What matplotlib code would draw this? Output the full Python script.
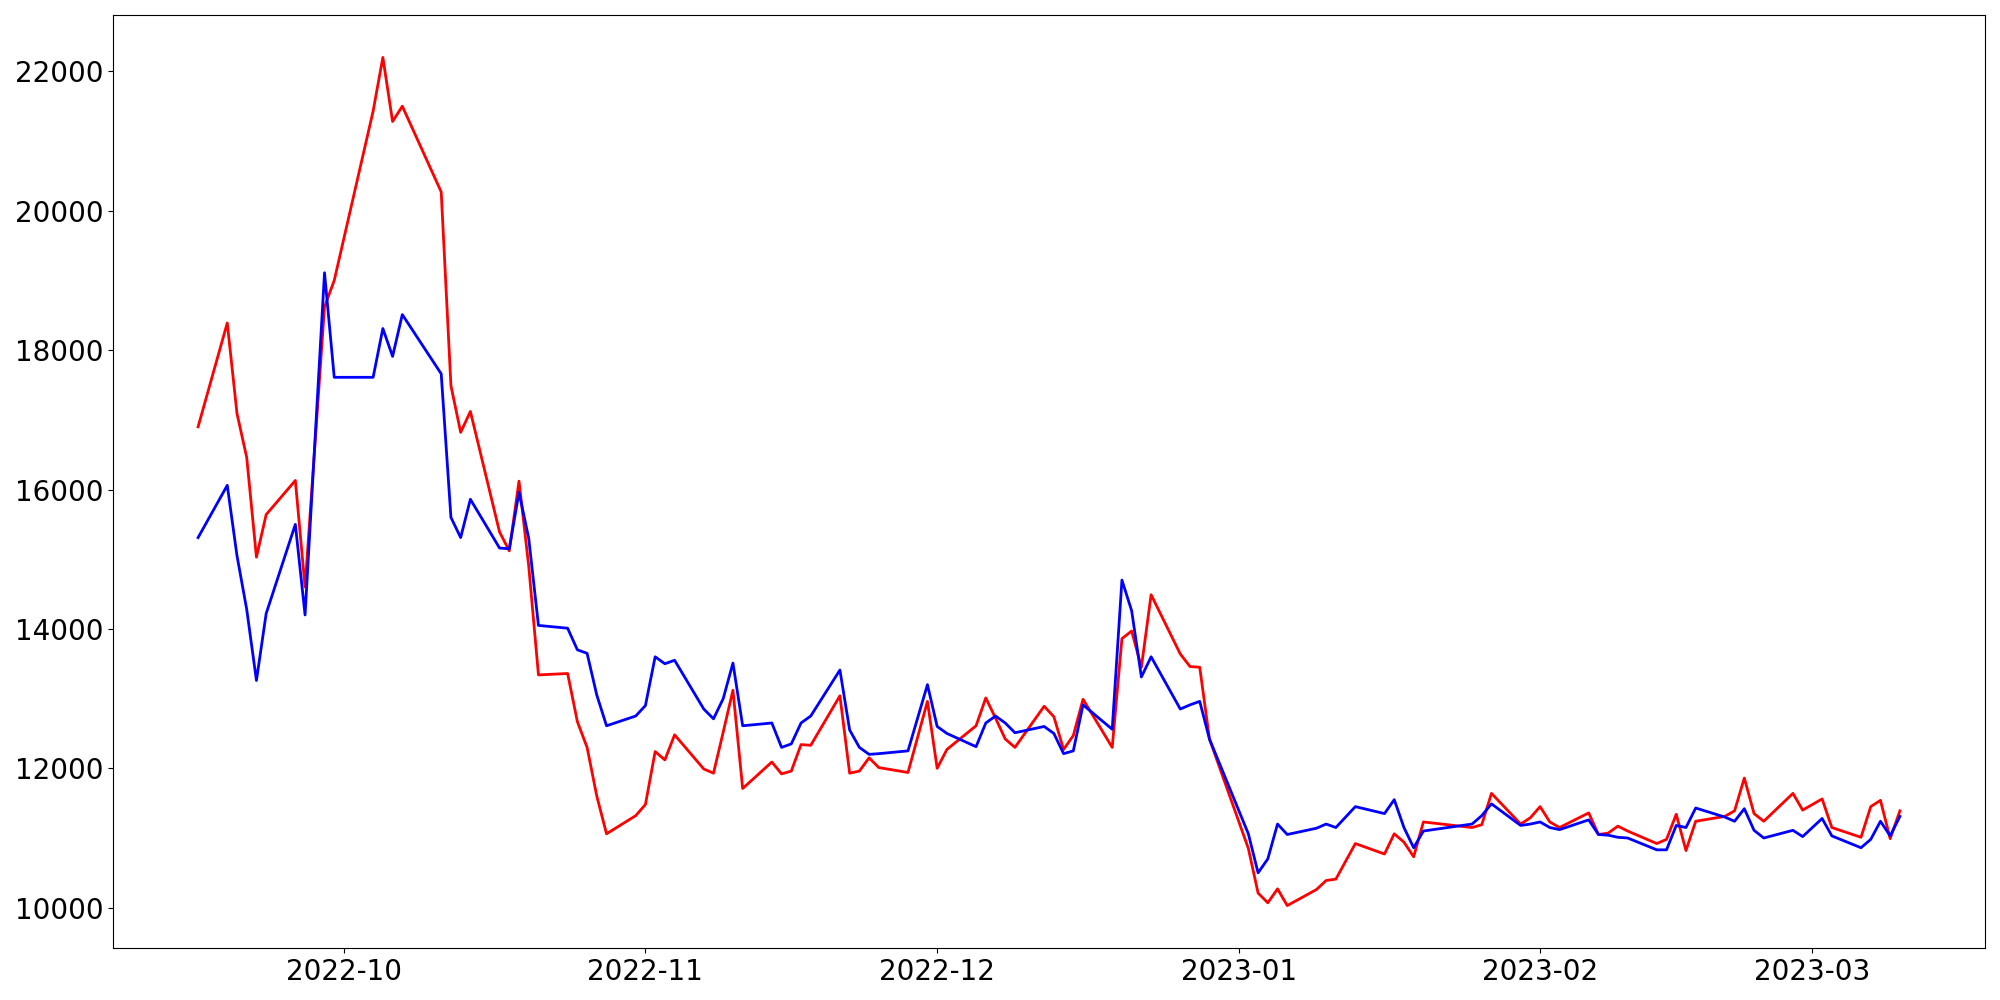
import pandas as pd
import matplotlib
matplotlib.use('Agg')
import matplotlib.pyplot as plt

# dates (trading days shown in the chart)
dates = pd.to_datetime([
    '2022-09-16', '2022-09-19', '2022-09-20', '2022-09-21', '2022-09-22', '2022-09-23',
    '2022-09-26', '2022-09-27', '2022-09-29', '2022-09-30',
    '2022-10-04', '2022-10-05', '2022-10-06', '2022-10-07',
    '2022-10-11', '2022-10-12', '2022-10-13', '2022-10-14',
    '2022-10-17', '2022-10-18', '2022-10-19', '2022-10-20', '2022-10-21',
    '2022-10-24', '2022-10-25', '2022-10-26', '2022-10-27', '2022-10-28',
    '2022-10-31', '2022-11-01', '2022-11-02', '2022-11-03', '2022-11-04',
    '2022-11-07', '2022-11-08', '2022-11-09', '2022-11-10', '2022-11-11',
    '2022-11-14', '2022-11-15', '2022-11-16', '2022-11-17', '2022-11-18',
    '2022-11-21', '2022-11-22', '2022-11-23', '2022-11-24', '2022-11-25',
    '2022-11-28', '2022-11-30', '2022-12-01', '2022-12-02',
    '2022-12-05', '2022-12-06', '2022-12-07', '2022-12-08', '2022-12-09',
    '2022-12-12', '2022-12-13', '2022-12-14', '2022-12-15', '2022-12-16',
    '2022-12-19', '2022-12-20', '2022-12-21', '2022-12-22', '2022-12-23',
    '2022-12-26', '2022-12-27', '2022-12-28', '2022-12-29',
    '2023-01-02', '2023-01-03', '2023-01-04', '2023-01-05', '2023-01-06',
    '2023-01-09', '2023-01-10', '2023-01-11', '2023-01-13',
    '2023-01-16', '2023-01-17', '2023-01-18', '2023-01-19', '2023-01-20',
    '2023-01-25', '2023-01-26', '2023-01-27',
    '2023-01-30', '2023-01-31', '2023-02-01', '2023-02-02', '2023-02-03',
    '2023-02-06', '2023-02-07', '2023-02-08', '2023-02-09', '2023-02-10',
    '2023-02-13', '2023-02-14', '2023-02-15', '2023-02-16', '2023-02-17',
    '2023-02-20', '2023-02-21', '2023-02-22', '2023-02-23', '2023-02-24',
    '2023-02-27', '2023-02-28', '2023-03-02', '2023-03-03',
    '2023-03-06', '2023-03-07', '2023-03-08', '2023-03-09', '2023-03-10',
])

# red line
red_values = [
    16900, 18390, 17090, 16460, 15030, 15640,
    16130, 14600, 18620, 19000,
    21430, 22200, 21280, 21500,
    20270, 17490, 16820, 17120,
    15390, 15120, 16120, 14900, 13340,
    13360, 12670, 12300, 11600, 11060,
    11320, 11480, 12240, 12120, 12480,
    11990, 11930, 12520, 13120, 11710,
    12090, 11920, 11960, 12340, 12330,
    13040, 11930, 11960, 12150, 12010,
    11940, 12960, 12000, 12270,
    12610, 13010, 12720, 12420, 12300,
    12890, 12740, 12270, 12470, 12990,
    12300, 13860, 13970, 13450, 14490,
    13640, 13460, 13450, 12420,
    10850, 10210, 10070, 10270, 10030,
    10260, 10390, 10410, 10920,
    10770, 11060, 10940, 10730, 11230,
    11150, 11190, 11640,
    11200, 11290, 11450, 11230, 11150,
    11360, 11050, 11070, 11170, 11100,
    10920, 10980, 11340, 10820, 11240,
    11310, 11390, 11860, 11350, 11240,
    11640, 11400, 11560, 11150,
    11010, 11450, 11540, 10990, 11390,
]

# blue line
blue_values = [
    15310, 16060, 15050, 14280, 13260, 14220,
    15500, 14200, 19110, 17610,
    17610, 18310, 17910, 18510,
    17660, 15600, 15310, 15860,
    15160, 15150, 15960, 15300, 14050,
    14010, 13700, 13650, 13050, 12610,
    12750, 12900, 13600, 13500, 13550,
    12850, 12710, 13000, 13510, 12610,
    12650, 12300, 12350, 12650, 12750,
    13410, 12550, 12300, 12200, 12210,
    12250, 13200, 12600, 12500,
    12310, 12650, 12750, 12650, 12510,
    12600, 12500, 12210, 12250, 12910,
    12560, 14700, 14260, 13310, 13600,
    12850, 12910, 12960, 12420,
    11060, 10500, 10700, 11200, 11050,
    11140, 11200, 11150, 11450,
    11350, 11550, 11150, 10860, 11100,
    11200, 11320, 11490,
    11180, 11200, 11230, 11150, 11120,
    11260, 11050, 11040, 11010, 11000,
    10830, 10830, 11180, 11150, 11430,
    11300, 11240, 11420, 11110, 11000,
    11110, 11020, 11280, 11030,
    10860, 10980, 11240, 11030, 11310,
]

fig = plt.figure(figsize=(20, 10), dpi=100)
ax = fig.add_subplot(111)
fig.subplots_adjust(left=0.0565, right=0.9925, bottom=0.052, top=0.985)
ax.plot(dates, red_values, color='red', linewidth=2)
ax.plot(dates, blue_values, color='blue', linewidth=2)
ax.tick_params(labelsize=20)
plt.savefig('out.png', dpi=100)
